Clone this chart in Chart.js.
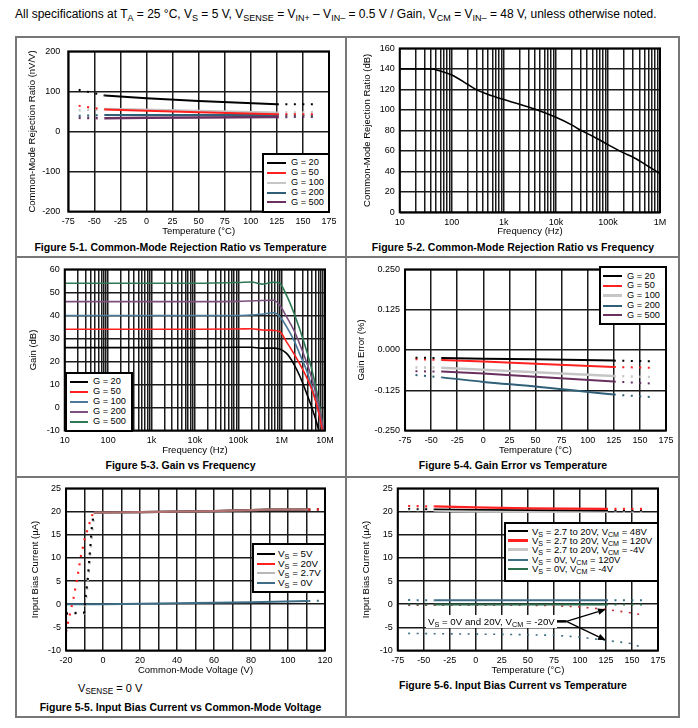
<!DOCTYPE html>
<html><head><meta charset="utf-8">
<script src="https://cdn.jsdelivr.net/npm/chart.js@4.4.1/dist/chart.umd.min.js"></script>
<style>
body{margin:0;width:698px;height:728px;background:#fff;position:relative;font-family:"Liberation Sans",Arial,sans-serif;color:#000;overflow:hidden}
canvas{position:absolute}
.t{position:absolute;white-space:nowrap;line-height:1}
sub{font-size:75%;vertical-align:-0.3em;line-height:0}
.cap{font-weight:bold;font-size:10.5px;transform:translateX(-50%)}
.ln{position:absolute;background:#777}
.leg{position:absolute;background:#fff;border:2px solid #000;box-sizing:border-box}
.sw{position:absolute}
</style></head><body>
<script>
// ---------------- DATA ----------------
const gainLabels = ['G = 20', 'G = 50', 'G = 100', 'G = 200', 'G = 500'];

// Fig 5-1 CMRR vs temperature (nV/V)
const cmrrTempC = [-65, -40, 0, 50, 125, 160];
const cmrrT_G20 = [104, 90, 83, 76, 68, 68];
const cmrrT_G50 = [64, 55, 52, 48, 43, 43];
const cmrrT_G100 = [53, 56, 54, 51, 47, 48];
const cmrrT_G200 = [39, 41, 41, 41, 41, 40];
const cmrrT_G500 = [34, 33, 34, 35, 36, 37];

// Fig 5-2 CMRR vs frequency (dB)
const cmrrFreqHz = [10, 20, 40, 60, 100, 200, 300, 500, 1000, 2000, 4000, 10000, 20000, 30000, 50000, 100000, 200000, 300000, 500000, 1000000];
const cmrrFreqDb = [140, 140, 140, 138, 134, 125, 119.5, 115, 110, 105.5, 100.5, 92.7, 85.3, 80, 74.5, 66, 58, 54, 47.3, 37.7];

// Fig 5-3 Gain vs frequency (dB)
const gainFreqHz = [10, 100, 1000, 10000, 100000, 200000, 350000, 650000, 900000, 1300000, 1900000, 2650000, 3800000, 5400000, 7100000, 10000000];
const gainF_G20 = [26, 26, 26, 26, 26.2, 26.2, 25.8, 25.8, 25.4, 23.5, 19, 13.5, 6, -2, -9.7, -25];
const gainF_G50 = [34, 34, 34, 34, 34.1, 34.2, 33.7, 33.5, 33, 28.5, 23.5, 18.7, 13, 5.9, -1.9, -16];
const gainF_G100 = [40, 40, 40, 40, 40, 40.2, 40.5, 41.2, 39.6, 35.1, 29.4, 23, 15.9, 6.6, -1.9, -18];
const gainF_G200 = [46, 46, 46, 46, 46.1, 46.3, 46.5, 46.6, 44.5, 39.4, 33.7, 27.3, 19.4, 10.2, 1, -13];
const gainF_G500 = [54, 54, 54, 54, 54.3, 54.5, 53.6, 54.4, 54, 48.7, 41.3, 33.7, 24.4, 13.7, 2.9, -14];

// Fig 5-4 Gain error vs temperature (%)
const geTempC = [-65, -40, 0, 50, 125, 160];
const ge_G20 = [-0.024, -0.025, -0.027, -0.029, -0.033, -0.035];
const ge_G50 = [-0.029, -0.031, -0.036, -0.043, -0.053, -0.055];
const ge_G100 = [-0.054, -0.055, -0.061, -0.069, -0.081, -0.084];
const ge_G200 = [-0.078, -0.085, -0.099, -0.113, -0.138, -0.146];
const ge_G500 = [-0.066, -0.067, -0.073, -0.083, -0.098, -0.104];

// Fig 5-5 Input bias current vs common-mode voltage (uA)
const vsLabels5 = ['V<sub>S</sub> = 5V', 'V<sub>S</sub> = 20V', 'V<sub>S</sub> = 2.7V', 'V<sub>S</sub> = 0V'];
const vcm5V = [-20, -10.2, -9.4, -8.1, -7, -6.1, -5, 20, 60, 90, 111, 120];
const ib5V = [-2, -1.8, 1.7, 6.1, 11.8, 16.4, 19.8, 19.9, 20.1, 20.4, 20.4, 20.5];
const vcm20V = [-20, -18, -16, -14, -12, -10, -8, -6, -5, 20, 60, 90, 111, 120];
const ib20V = [-6, -2.3, 1.2, 5.5, 10.3, 14, 16.6, 19.1, 19.8, 19.9, 20.1, 20.4, 20.4, 20.5];
const vcm2V7 = [-20, -10, -9, -7.8, -6.6, -5.6, -4.6, 20, 60, 90, 111, 120];
const ib2V7 = [-2, -2, 1.5, 6.5, 12, 16.5, 19.8, 19.9, 20.1, 20.4, 20.4, 20.5];
const vcm0V = [-20, 0, 40, 80, 111, 120];
const ib0V = [0, 0, 0.2, 0.45, 0.7, 0.75];

// Fig 5-6 Input bias current vs temperature (uA)
const ibLabels6 = ['V<sub>S</sub> = 2.7 to 20V, V<sub>CM</sub> = 48V', 'V<sub>S</sub> = 2.7 to 20V, V<sub>CM</sub> = 120V', 'V<sub>S</sub> = 2.7 to 20V, V<sub>CM</sub> = -4V', 'V<sub>S</sub> = 0V, V<sub>CM</sub> = 120V', 'V<sub>S</sub> = 0V, V<sub>CM</sub> = -4V'];
const ibTempC = [-65, -40, 0, 50, 125, 160];
const ibT_48 = [20.6, 20.5, 20.4, 20.3, 20.2, 20.2];
const ibT_120 = [21.2, 21.1, 20.9, 20.7, 20.6, 20.6];
const ibT_m4 = [20.4, 20.3, 20.1, 20.0, 20.0, 20.0];
const ibT_0V120 = [0.9, 0.85, 0.85, 0.85, 0.85, 0.85];
const ibT_0Vm4 = [-0.05, -0.05, -0.05, -0.05, -0.05, -0.05];
const ibTempC20 = [-65, -25, 25, 75, 100, 125, 150, 160];
const ibT_m20_20V = [-0.2, -0.2, -0.2, -0.3, -0.6, -1.1, -1.9, -2.3];
const ibT_m20_0V = [-6.3, -6.4, -6.5, -6.7, -7.1, -7.8, -8.5, -9.4];

// tick labels
const decadeValues = [10, 100, 1000, 10000, 100000, 1000000, 10000000];
const decadeLabels = ['10', '100', '1k', '10k', '100k', '1M', '10M'];

// ---------------- STYLE / HELPERS ----------------
Chart.defaults.font.family = '"Liberation Sans", Arial, sans-serif';
Chart.defaults.color = '#000';
const DOT = [2, 6.5];
const C = {black:'#000', red:'#ff2020', gray:'#c6c6c6', teal:'#2f6077', purple:'#6a3060',
           blue3:'#4b7a9b', purple3:'#7b4f7e', green3:'#2f7a55', teal5:'#3e6e86', green6:'#2d6e4e'};

function txt(html, x, y, size, cls, extra) {
  const d = document.createElement('div');
  d.className = 't ' + (cls || '');
  d.innerHTML = html;
  d.style.left = x + 'px';
  d.style.top = (y - 0.49 * size) + 'px';
  d.style.fontSize = size + 'px';
  if (extra) Object.assign(d.style, extra);
  document.body.appendChild(d);
  return d;
}
function rule(x, y, w, h) {
  const d = document.createElement('div');
  d.className = 'ln';
  Object.assign(d.style, {left: x + 'px', top: y + 'px', width: w + 'px', height: h + 'px'});
  document.body.appendChild(d);
}
function legend(box, rows, lineX, lineW, textX, ys, size) {
  const b = document.createElement('div');
  b.className = 'leg';
  Object.assign(b.style, {left: box[0] + 'px', top: box[1] + 'px', width: (box[2] - box[0]) + 'px', height: (box[3] - box[1]) + 'px'});
  document.body.appendChild(b);
  rows.forEach((r, i) => {
    const s = document.createElement('div');
    s.className = 'sw';
    const w = r.w || 2;
    Object.assign(s.style, {left: lineX + 'px', top: (ys[i] - w / 2) + 'px', width: lineW + 'px', height: w + 'px', background: r.c});
    document.body.appendChild(s);
    txt(r.t, textX, ys[i], size);
  });
}
function line(label, xs, ys, color, o = {}) {
  const d = {label, data: xs.map((x, i) => ({x, y: ys[i]})), borderColor: color, backgroundColor: color,
    borderWidth: o.w || 2, pointRadius: 0, pointHoverRadius: 0, fill: false,
    tension: o.tension || 0, cubicInterpolationMode: o.mono ? 'monotone' : 'default',
    borderDash: o.dotted ? DOT : [], borderCapStyle: 'butt'};
  if (o.solid) {
    const [lo, hi] = o.solid;
    const out = c => c.p1.parsed.x <= lo + 1e-9 || c.p0.parsed.x >= hi - 1e-9;
    d.segment = {borderDash: c => out(c) ? DOT : undefined};
    if (o.solidColor) d.segment.borderColor = c => out(c) ? undefined : o.solidColor;
  }
  return d;
}
function logTicks(min, max) {
  return scale => {
    const t = [];
    for (let e = Math.round(Math.log10(min)); Math.pow(10, e) <= max; e++)
      for (let m = 1; m < 10; m++) { const v = m * Math.pow(10, e); if (v >= min - 1e-9 && v <= max + 1e-9) t.push({value: v}); }
    scale.ticks = t;
  };
}
const decadeLabel = v => { const i = decadeValues.findIndex(d => Math.abs(d - v) / d < 1e-9); return i >= 0 ? decadeLabels[i] : ''; };

const framePlugin = {id: 'frame', afterDatasetsDraw(c) {
  const a = c.chartArea, x = c.ctx; x.save(); x.strokeStyle = '#000'; x.lineWidth = 2;
  x.strokeRect(a.left, a.top, a.right - a.left, a.bottom - a.top); x.restore(); }};

function axis(o) {
  return {
    type: o.type || 'linear', min: o.min, max: o.max,
    grid: {color: '#1a1a1a', lineWidth: 1.5, drawTicks: false},
    border: {display: false},
    ticks: Object.assign({font: {size: 9}, color: '#000', padding: o.pad ?? 5, autoSkip: false, maxRotation: 0, minRotation: 0}, o.ticks || {}),
    title: {display: true, text: o.title, font: {size: 9.5, lineHeight: 1}, padding: 0, color: '#000'},
    afterBuildTicks: o.afterBuildTicks
  };
}
function makeChart(box, xo, yo, datasets, extraPlugins) {
  const TS = 9.5;
  const L = box.yt - TS / 2, T = box.ct - 8, R = box.cr + 14, B = box.xt + TS / 2;
  const W = Math.round(R - L), H = Math.round(B - T);
  const cv = document.createElement('canvas');
  cv.width = W; cv.height = H;
  Object.assign(cv.style, {left: L + 'px', top: T + 'px', width: W + 'px', height: H + 'px'});
  document.body.appendChild(cv);
  const yW = box.cl - L, xH = B - box.cb;
  const x = axis(xo), y = axis(yo);
  x.afterFit = s => { s.height = xH; };
  y.afterFit = s => { s.width = yW; };
  return new Chart(cv, {type: 'line', data: {datasets},
    options: {responsive: false, animation: false, devicePixelRatio: 1, events: [],
      layout: {padding: {left: 0, top: 8, right: 14, bottom: 0}},
      plugins: {legend: {display: false}, tooltip: {enabled: false}},
      scales: {x, y}},
    plugins: [framePlugin].concat(extraPlugins || [])});
}

// ---------------- PAGE FRAME & TEXT ----------------
txt('All specifications at T<sub>A</sub> = 25 °C, V<sub>S</sub> = 5 V, V<sub>SENSE</sub> = V<sub>IN+</sub> – V<sub>IN–</sub> = 0.5 V / Gain, V<sub>CM</sub> = V<sub>IN–</sub> = 48 V, unless otherwise noted.', 15, 14, 12);
rule(15, 36, 665, 2); rule(15, 716, 665, 2); rule(15, 36, 2, 682); rule(678, 36, 2, 682);
rule(345, 36, 2, 682); rule(15, 256, 665, 2); rule(15, 476, 665, 2);

// ---------------- FIG 5-1 ----------------
const tempX = {min: -75, max: 175, title: 'Temperature (°C)', ticks: {stepSize: 25}};
makeChart({cl: 68, ct: 46, cr: 329, cb: 212, yt: 32.5, xt: 231.7}, tempX,
  {min: -200, max: 200, title: 'Common-Mode Rejection Ratio (nV/V)', pad: 8, ticks: {stepSize: 100}},
  [line(gainLabels[0], cmrrTempC, cmrrT_G20, C.black, {solid: [-40, 125]}),
   line(gainLabels[1], cmrrTempC, cmrrT_G50, C.red, {solid: [-40, 125]}),
   line(gainLabels[2], cmrrTempC, cmrrT_G100, C.gray, {solid: [-40, 125], w: 2.5}),
   line(gainLabels[3], cmrrTempC, cmrrT_G200, C.teal, {solid: [-40, 125]}),
   line(gainLabels[4], cmrrTempC, cmrrT_G500, C.purple, {solid: [-40, 125], w: 2.5})]);
legend([262, 153, 330, 213], [{c: C.black, t: gainLabels[0]}, {c: C.red, t: gainLabels[1]}, {c: C.gray, t: gainLabels[2]}, {c: C.teal, t: gainLabels[3]}, {c: C.purple, t: gainLabels[4]}],
  267, 19, 291, [162.7, 172.7, 182.7, 192.7, 202.3], 9.2);
txt('Figure 5-1. Common-Mode Rejection Ratio vs Temperature', 180.5, 247, 10.5, 'cap');

// ---------------- FIG 5-2 ----------------
makeChart({cl: 400, ct: 46, cr: 660, cb: 212, yt: 368, xt: 231},
  {type: 'logarithmic', min: 10, max: 1e6, title: 'Frequency (Hz)', afterBuildTicks: logTicks(10, 1e6), ticks: {callback: decadeLabel}},
  {min: 0, max: 160, title: 'Common-Mode Rejection Ratio (dB)', ticks: {stepSize: 20}},
  [line('CMRR', cmrrFreqHz, cmrrFreqDb, C.black, {mono: true, w: 1.6})]);
txt('Figure 5-2. Common-Mode Rejection Ratio vs Frequency', 513, 247, 10.5, 'cap');

// ---------------- FIG 5-3 ----------------
makeChart({cl: 65, ct: 267, cr: 325, cb: 431, yt: 34, xt: 450.7},
  {type: 'logarithmic', min: 10, max: 1e7, title: 'Frequency (Hz)', afterBuildTicks: logTicks(10, 1e7), ticks: {callback: decadeLabel}},
  {min: -10, max: 60, title: 'Gain (dB)', ticks: {stepSize: 10}},
  [line(gainLabels[0], gainFreqHz, gainF_G20, C.black, {mono: true, w: 1.6}),
   line(gainLabels[1], gainFreqHz, gainF_G50, C.red, {mono: true, w: 1.6}),
   line(gainLabels[2], gainFreqHz, gainF_G100, C.blue3, {mono: true, w: 1.6}),
   line(gainLabels[3], gainFreqHz, gainF_G200, C.purple3, {mono: true, w: 1.6}),
   line(gainLabels[4], gainFreqHz, gainF_G500, C.green3, {mono: true, w: 1.6})]);
legend([65, 372, 133, 432], [{c: C.black, t: gainLabels[0]}, {c: C.red, t: gainLabels[1]}, {c: C.blue3, t: gainLabels[2]}, {c: C.purple3, t: gainLabels[3]}, {c: C.green3, t: gainLabels[4]}],
  70, 18, 93, [382, 392, 402, 412, 421.5], 9.2);
txt('Figure 5-3. Gain vs Frequency', 180.5, 465, 10.5, 'cap');

// ---------------- FIG 5-4 ----------------
makeChart({cl: 405, ct: 267, cr: 666, cb: 431, yt: 361.7, xt: 450.7}, tempX,
  {min: -0.25, max: 0.25, title: 'Gain Error (%)', ticks: {stepSize: 0.125, callback: v => v.toFixed(3)}},
  [line(gainLabels[0], geTempC, ge_G20, C.black, {solid: [-40, 125]}),
   line(gainLabels[1], geTempC, ge_G50, C.red, {solid: [-40, 125]}),
   line(gainLabels[2], geTempC, ge_G100, C.gray, {solid: [-40, 125], w: 2.5}),
   line(gainLabels[3], geTempC, ge_G200, C.teal, {solid: [-40, 125], mono: true}),
   line(gainLabels[4], geTempC, ge_G500, C.purple, {solid: [-40, 125]})]);
legend([599, 266, 667, 325], [{c: C.black, t: gainLabels[0]}, {c: C.red, t: gainLabels[1]}, {c: C.gray, t: gainLabels[2], w: 2.5}, {c: C.teal, t: gainLabels[3]}, {c: C.purple, t: gainLabels[4]}],
  603, 19, 627, [276.3, 286, 295.7, 305.5, 315.3], 9.2);
txt('Figure 5-4. Gain Error vs Temperature', 513, 465, 10.5, 'cap');

// ---------------- FIG 5-5 ----------------
makeChart({cl: 66, ct: 486, cr: 325, cb: 651, yt: 35.7, xt: 670.7},
  {min: -20, max: 120, title: 'Common-Mode Voltage (V)', ticks: {stepSize: 10, callback: v => (v % 20 === 0 ? String(v) : '')}},
  {min: -10, max: 25, title: 'Input Bias Current (µA)', ticks: {stepSize: 5}},
  [line(vsLabels5[1], vcm20V, ib20V, C.red, {solid: [-5, 111], solidColor: 'rgba(196,125,125,0.9)', w: 2.2}),
   line(vsLabels5[0], vcm5V, ib5V, C.black, {solid: [-5, 111], w: 2.2}),
   line(vsLabels5[2], vcm2V7, ib2V7, '#b8b8b8', {solid: [-4.6, 111], w: 2.2}),
   line(vsLabels5[3], vcm0V, ib0V, C.teal5, {solid: [-20, 111], w: 2})]);
legend([252, 543, 326, 593], [{c: C.black, t: vsLabels5[0]}, {c: C.red, t: vsLabels5[1]}, {c: '#b8b8b8', t: vsLabels5[2]}, {c: C.teal5, t: vsLabels5[3]}],
  257, 18, 278, [554, 563.7, 573, 583], 9.8);
txt('V<sub>SENSE</sub> = 0 V', 78, 688, 11);
txt('Figure 5-5. Input Bias Current vs Common-Mode Voltage', 180.5, 707, 10.5, 'cap');

// ---------------- FIG 5-6 ----------------
const annot6 = {from: {x: 76.5, y: -3.7}, knee: {x: 87, y: -3.7}, tips: [{x: 125, y: -1.1}, {x: 125, y: -7.8}]};
const arrowPlugin = {id: 'arrows', afterDatasetsDraw(c) {
  const sx = c.scales.x, sy = c.scales.y, ctx = c.ctx;
  const P = p => [sx.getPixelForValue(p.x), sy.getPixelForValue(p.y)];
  const [ax, ay] = P(annot6.from), [kx, ky] = P(annot6.knee);
  ctx.save(); ctx.strokeStyle = '#000'; ctx.fillStyle = '#000';
  ctx.lineWidth = 2.5; ctx.beginPath(); ctx.moveTo(ax, ay); ctx.lineTo(kx, ky); ctx.stroke();
  ctx.lineWidth = 1.3;
  annot6.tips.forEach(t => {
    const [tx, ty] = P(t); const ang = Math.atan2(ty - ky, tx - kx);
    const hl = 8, hw = 3.2;
    const bx = tx - hl * Math.cos(ang), by = ty - hl * Math.sin(ang);
    ctx.beginPath(); ctx.moveTo(kx, ky); ctx.lineTo(bx, by); ctx.stroke();
    ctx.beginPath(); ctx.moveTo(tx, ty);
    ctx.lineTo(bx + hw * Math.sin(ang), by - hw * Math.cos(ang));
    ctx.lineTo(bx - hw * Math.sin(ang), by + hw * Math.cos(ang));
    ctx.closePath(); ctx.fill();
  });
  ctx.restore(); }};
makeChart({cl: 398, ct: 486, cr: 658, cb: 651, yt: 367, xt: 670.7}, tempX,
  {min: -10, max: 25, title: 'Input Bias Current (µA)', ticks: {stepSize: 5}},
  [line(ibLabels6[1], ibTempC, ibT_120, C.red, {solid: [-40, 125], w: 2.2}),
   line(ibLabels6[0], ibTempC, ibT_48, C.black, {solid: [-40, 125], w: 1.6}),
   line(ibLabels6[2], ibTempC, ibT_m4, C.gray, {solid: [-40, 125], w: 3}),
   line(ibLabels6[3], ibTempC, ibT_0V120, C.teal5, {solid: [-40, 125], w: 2}),
   line(ibLabels6[4], ibTempC, ibT_0Vm4, C.green6, {solid: [-40, 125], w: 2}),
   line('VS = 20V, VCM = -20V', ibTempC20, ibT_m20_20V, '#c03030', {dotted: true, w: 1.6}),
   line('VS = 0V, VCM = -20V', ibTempC20, ibT_m20_0V, C.teal5, {dotted: true, w: 1.6})],
  [arrowPlugin]);
legend([504, 522, 659, 582], [{c: C.black, t: ibLabels6[0]}, {c: C.red, t: ibLabels6[1], w: 3}, {c: C.gray, t: ibLabels6[2], w: 3}, {c: C.teal5, t: ibLabels6[3]}, {c: C.green6, t: ibLabels6[4]}],
  508, 20, 532, [531.3, 540.7, 549.7, 559.7, 568.7], 9.5);
txt('V<sub>S</sub> = 0V and 20V, V<sub>CM</sub> = -20V', 426, 621.5, 9.7, '', {background: '#fff', padding: '2px 2px', marginTop: '-2px'});
txt('Figure 5-6. Input Bias Current vs Temperature', 513, 685, 10.5, 'cap');
</script>
</body></html>
